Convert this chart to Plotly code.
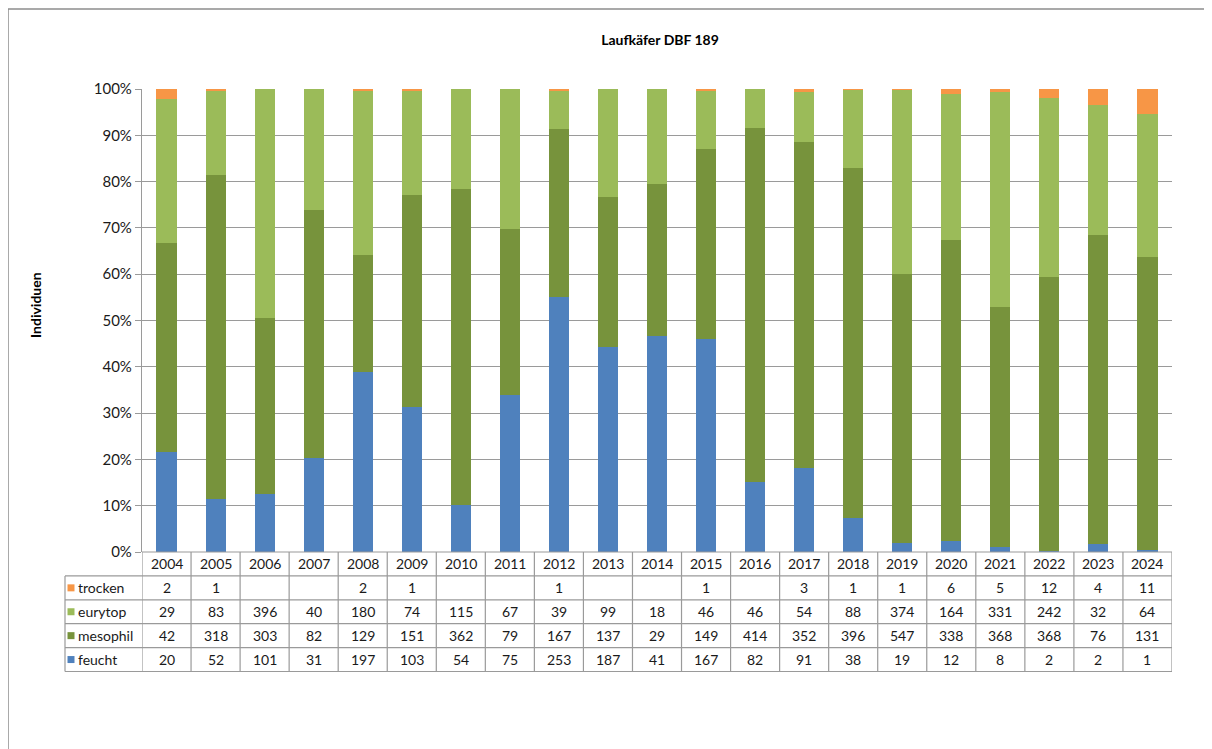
import plotly.graph_objects as go

years = ["2004", "2005", "2006", "2007", "2008", "2009", "2010", "2011", "2012", "2013", "2014",
         "2015", "2016", "2017", "2018", "2019", "2020", "2021", "2022", "2023", "2024"]
feucht = [20, 52, 101, 31, 197, 103, 54, 75, 253, 187, 41, 167, 82, 91, 38, 19, 12, 8, 2, 2, 1]
mesophil = [42, 318, 303, 82, 129, 151, 362, 79, 167, 137, 29, 149, 414, 352, 396, 547, 338, 368, 368, 76, 131]
eurytop = [29, 83, 396, 40, 180, 74, 115, 67, 39, 99, 18, 46, 46, 54, 88, 374, 164, 331, 242, 32, 64]
trocken = [2, 1, None, None, 2, 1, None, None, 1, None, None, 1, None, 3, 1, 1, 6, 5, 12, 4, 11]

series = [
    ("feucht", feucht, "#4F81BD"),
    ("mesophil", mesophil, "#77933C"),
    ("eurytop", eurytop, "#9BBB59"),
    ("trocken", trocken, "#F79646"),
]

FONT = "Lato"
OFF = 8  # page body margin
W, H = 1212 - OFF, 749 - OFF
L, R, T, B = 142 - OFF, 40, 89 - OFF, 197
PW, PH = W - L - R, H - T - B


def px_x(px):
    # page pixel -> paper x
    return (px - OFF - L) / PW


def px_y(py):
    # page pixel -> paper y
    return (H - B - (py - OFF)) / PH


fig = go.Figure()
for name, vals, col in series:
    fig.add_trace(go.Bar(
        x=years, y=[v if v is not None else 0 for v in vals], name=name,
        marker=dict(color=col, line=dict(width=0)), showlegend=False,
    ))

shapes = []
annotations = []
GRID = "#9a9a9a"
TXT = "#1a1a1a"

row_h = 23.9
top_px = 552
rows_bottom = [top_px + row_h * (k + 1) for k in range(5)]
table_left_px = 65

shapes.append(dict(type="line", xref="paper", yref="paper", x0=0, x1=1,
                   y0=px_y(top_px), y1=px_y(top_px), line=dict(color=GRID, width=1.2)))
for k in range(5):
    yb = px_y(rows_bottom[k])
    shapes.append(dict(type="line", xref="paper", yref="paper",
                       x0=px_x(table_left_px), x1=1, y0=yb, y1=yb,
                       line=dict(color=GRID, width=1.2)))
for i in range(len(years) + 1):
    shapes.append(dict(type="line", xref="x", yref="paper", x0=i - 0.5, x1=i - 0.5,
                       y0=px_y(top_px), y1=px_y(rows_bottom[-1]),
                       line=dict(color=GRID, width=1.2)))
shapes.append(dict(type="line", xref="paper", yref="paper",
                   x0=px_x(table_left_px), x1=px_x(table_left_px),
                   y0=px_y(rows_bottom[0]), y1=px_y(rows_bottom[-1]),
                   line=dict(color=GRID, width=1.2)))

for i, yr in enumerate(years):
    annotations.append(dict(x=i, xref="x", yref="paper",
                            y=px_y(top_px + row_h / 2), text=yr, showarrow=False,
                            font=dict(family=FONT, size=14, color=TXT),
                            xanchor="center", yanchor="middle"))

table_order = [series[3], series[2], series[1], series[0]]
for r, (name, vals, col) in enumerate(table_order):
    yc_px = rows_bottom[r] + row_h / 2
    shapes.append(dict(type="rect", xref="paper", yref="paper",
                       x0=px_x(67.5), x1=px_x(74.5),
                       y0=px_y(yc_px - 3.5), y1=px_y(yc_px + 3.5),
                       fillcolor=col, line=dict(width=0)))
    annotations.append(dict(x=px_x(76), xref="paper", yref="paper", y=px_y(yc_px),
                            text=name, showarrow=False, xanchor="left", yanchor="middle",
                            font=dict(family=FONT, size=14, color=TXT)))
    for i, v in enumerate(vals):
        if v is None:
            continue
        annotations.append(dict(x=i, xref="x", yref="paper", y=px_y(yc_px),
                                text=str(v), showarrow=False,
                                xanchor="center", yanchor="middle",
                                font=dict(family=FONT, size=14, color=TXT)))

# outer chart border (left and top)
shapes.append(dict(type="line", xref="paper", yref="paper",
                   x0=px_x(8), x1=px_x(1215), y0=px_y(9), y1=px_y(9),
                   line=dict(color="#8c8c8c", width=1.5)))
shapes.append(dict(type="line", xref="paper", yref="paper",
                   x0=px_x(8), x1=px_x(8), y0=px_y(9), y1=px_y(760),
                   line=dict(color="#8c8c8c", width=1.5)))

annotations.append(dict(x=px_x(35), y=px_y(305), xref="paper", yref="paper",
                        text="<b>Individuen</b>", textangle=-90, showarrow=False,
                        font=dict(family=FONT, size=14, color="#000"),
                        xanchor="center", yanchor="middle"))

fig.update_layout(
    width=W, height=H,
    margin=dict(l=L, r=R, t=T, b=B, autoexpand=False),
    barmode="stack", barnorm="percent", bargap=0.59,
    plot_bgcolor="white", paper_bgcolor="white",
    title=dict(text="<b>Laufkäfer DBF 189</b>", x=(660 - OFF) / W,
               xanchor="center", y=1 - (40 - OFF) / H, yanchor="middle",
               font=dict(family=FONT, size=14, color="#000")),
    font=dict(family=FONT, size=14, color=TXT),
    xaxis=dict(type="category", showticklabels=False, ticks="", showgrid=False,
               showline=False, zeroline=False, range=[-0.5, len(years) - 0.5]),
    yaxis=dict(range=[0, 100], dtick=10, ticksuffix="%", showgrid=True,
               gridcolor=GRID, gridwidth=1.2, ticks="outside", ticklen=6,
               tickcolor=GRID, showline=True, linecolor=GRID, linewidth=1.2,
               zeroline=False, tickfont=dict(family=FONT, size=15, color=TXT)),
    shapes=shapes, annotations=annotations,
    hovermode=False,
)

fig.write_html("out.html")
